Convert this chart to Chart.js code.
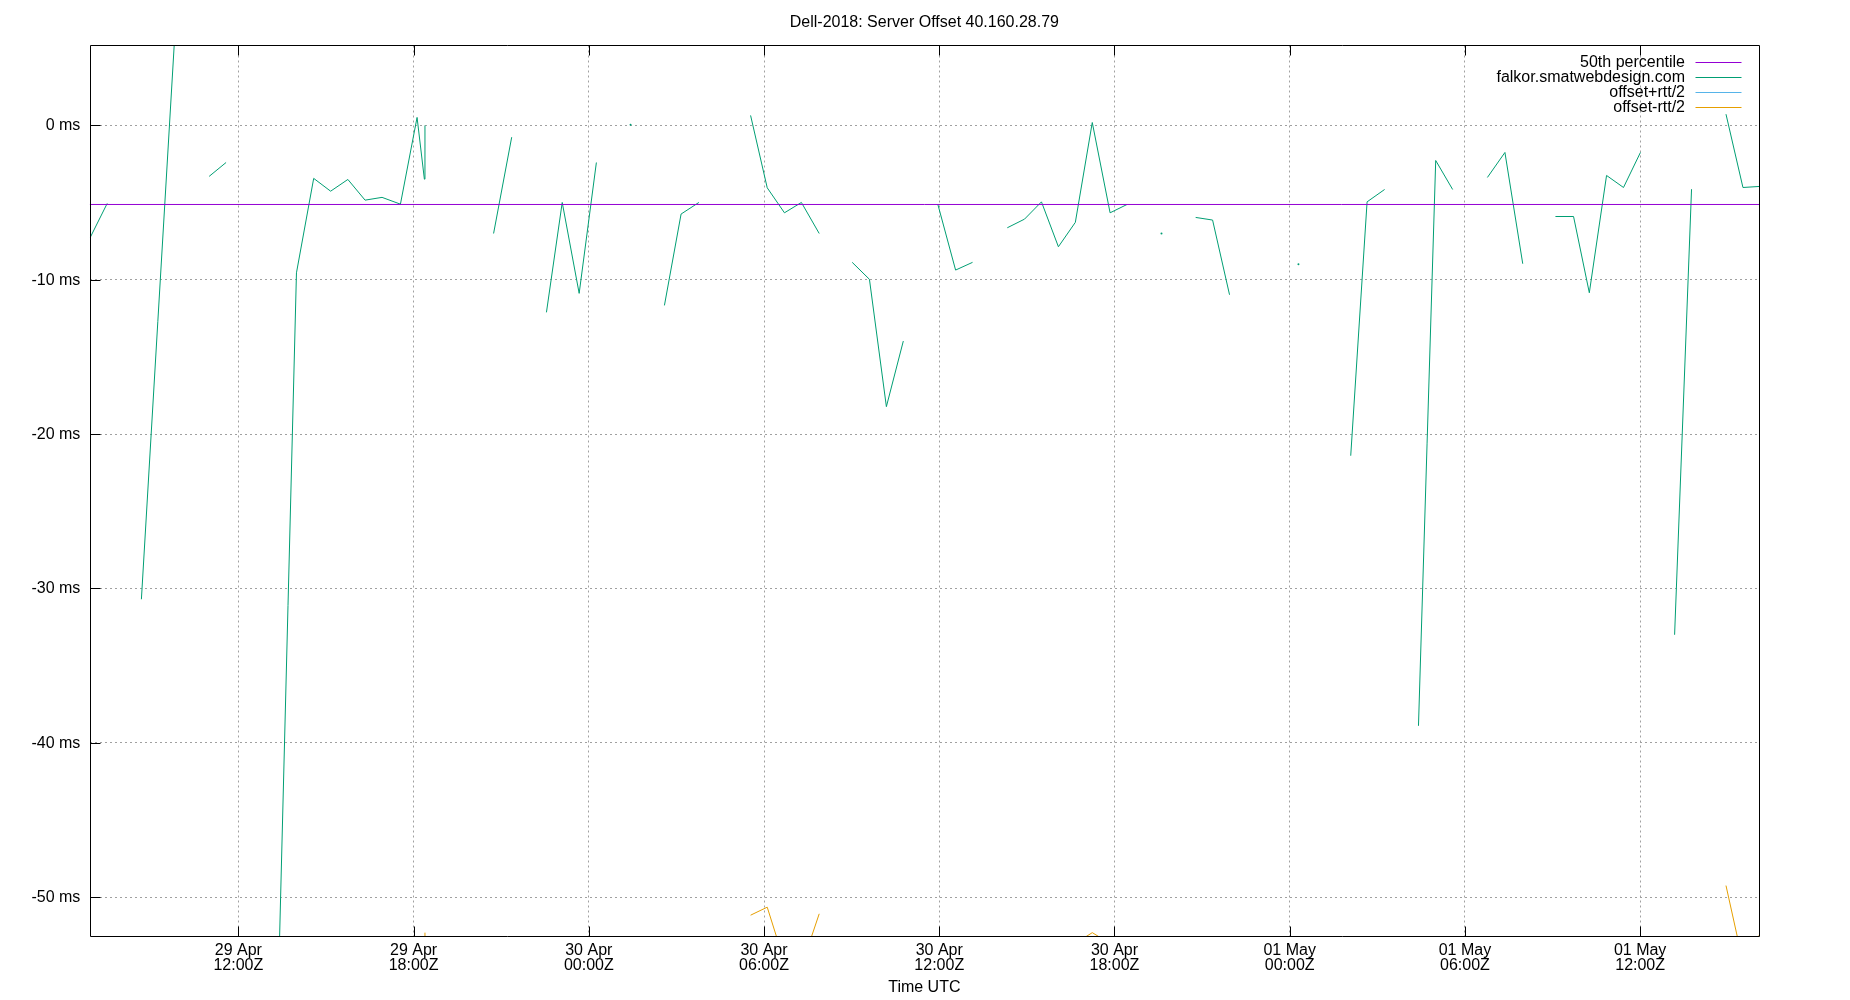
<!DOCTYPE html>
<html>
<head>
  <title>Dell-2018: Server Offset 40.160.28.79</title>
  <script src="https://cdn.jsdelivr.net/npm/chart.js"></script>
  <style>
    body { margin: 0; padding: 0; background: #fff; }
    .chart-container { width: 1850px; height: 1000px; position: relative; }
  </style>
</head>
<body>
  <div class="chart-container"><canvas id="offsetChart"></canvas></div>
  <script>
    // --- DATA (x = hours since 29 Apr 00:00Z, y = offset in ms, null = no sample) ---
    const sampleHours = [
      6.93, 7.51, 8.10, 8.68, 9.86, 10.42, 11.00, 11.58, 12.20, 13.40,
      13.99, 14.58, 15.16, 15.75, 16.34, 16.92, 17.55, 18.12, 18.37, 18.39,
      19.50, 20.74, 21.36, 21.90, 22.55, 23.09, 23.67, 24.26, 24.85, 25.43,
      26.00, 26.59, 27.16, 27.77, 28.60, 29.54, 30.11, 30.70, 31.28, 31.89,
      32.40, 33.02, 33.61, 34.19, 34.77, 35.40, 35.95, 36.56, 37.14, 37.70,
      38.33, 38.92, 39.50, 40.08, 40.66, 41.24, 41.85, 42.43, 43.00, 43.61,
      44.20, 44.78, 45.36, 45.94, 47.00, 48.30, 49.20, 50.09, 50.65, 51.25,
      51.80, 52.41, 53.00, 53.58, 54.20, 54.77, 55.37, 55.98, 56.50, 57.10,
      57.72, 58.26, 58.85, 59.43, 60.01, 60.60, 61.18, 61.76, 62.30, 62.94,
      63.52, 64.10
    ];
    const offsetMs = [
      -7.25, -5.05, null, -30.7, 7.0, null, -3.30, -2.40, null, -53.5,
      -9.55, -3.43, -4.26, -3.50, -4.84, -4.66, -5.10, 0.52, -3.48, 0.0,
      null, -7.0, -0.76, null, -12.11, -4.99, -10.88, -2.40, null, 0.05,
      null, -11.66, -5.74, -4.99, null, 0.65, -4.04, -5.66, -4.99, -7.0,
      null, -8.87, -9.97, -18.22, -13.97, null, -5.10, -9.37, -8.87, null,
      -6.63, -6.07, -4.95, -7.86, -6.28, 0.19, -5.66, -5.12, null, -7.0,
      null, -5.96, -6.13, -10.97, null, -9.0, null, -21.40, -4.95, -4.15,
      null, -38.9, -2.27, -4.15, null, -3.37, -1.75, -8.96, null, -5.90,
      -5.90, -10.84, -3.24, -4.02, -1.75, null, -33.0, -4.13, null, 0.73,
      -4.02, -3.95
    ];
    // offset-rtt/2: only the stretches that reach into the visible range
    const lowHours = [18.37, 18.39, 19.00, 29.54, 30.11, 30.70, 31.28, 31.89, 32.40,
                      40.66, 41.24, 41.85, 42.40, 62.94, 63.52, 64.10];
    const lowMs    = [-53.0, -52.3, null, -51.17, -50.65, -54.2, -54.5, -51.08, null,
                      -53.0, -52.3, -53.0, null, -49.25, -54.2, -52.4];
    // offset+rtt/2 never enters the visible range
    const highHours = [];
    const highMs = [];
    const medianMs = -5.12;

    const titleText = 'Dell-2018: Server Offset 40.160.28.79';
    const xRange = [6.91, 64.07];
    const yRange = [-52.55, 5.18];
    const xTickHours = [12, 18, 24, 30, 36, 42, 48, 54, 60];
    const xTickLabels = [
      ['29 Apr', '12:00Z'], ['29 Apr', '18:00Z'], ['30 Apr', '00:00Z'],
      ['30 Apr', '06:00Z'], ['30 Apr', '12:00Z'], ['30 Apr', '18:00Z'],
      ['01 May', '00:00Z'], ['01 May', '06:00Z'], ['01 May', '12:00Z']
    ];
    const yTickValues = [-50, -40, -30, -20, -10, 0];

    const FONT = '"Liberation Sans", Arial, sans-serif';
    const toPoints = (xs, ys) => xs.map((h, i) => ({ x: h, y: ys[i] }));

    // show a dot only for samples with no neighbour on either side
    function isolatedRadius(c) {
      const d = c.dataset.data, i = c.dataIndex;
      if (!d[i] || d[i].y === null) return 0;
      const prev = d[i - 1], next = d[i + 1];
      return (!prev || prev.y === null) && (!next || next.y === null) ? 1 : 0;
    }

    // gnuplot style: title over the plot, frame, inward tick marks, key top right
    const gnuplotFrame = {
      id: 'gnuplotFrame',
      afterDatasetsDraw(chart) {
        const { ctx, chartArea: a, scales: { x, y } } = chart;
        const L = Math.round(a.left) + 0.5, R = Math.round(a.right) + 0.5;
        const T = Math.floor(a.top) + 0.5, B = Math.floor(a.bottom) + 0.5;
        ctx.save();
        ctx.strokeStyle = '#000';
        ctx.lineWidth = 1;
        ctx.beginPath();
        ctx.rect(L, T, R - L, B - T);
        x.ticks.forEach(t => {
          const px = Math.round(x.getPixelForValue(t.value)) + 0.5;
          ctx.moveTo(px, B); ctx.lineTo(px, B - 10);
          ctx.moveTo(px, T); ctx.lineTo(px, T + 10);
        });
        y.ticks.forEach(t => {
          const py = Math.round(y.getPixelForValue(t.value)) + 0.5;
          ctx.moveTo(L, py); ctx.lineTo(L + 10, py);
        });
        ctx.stroke();

        ctx.font = '16px ' + FONT;
        ctx.fillStyle = '#000';
        ctx.textBaseline = 'middle';

        // title, centred on the plot
        ctx.textAlign = 'center';
        ctx.fillText(titleText, (a.left + a.right) / 2, 22.8);

        // key
        ctx.textAlign = 'right';
        chart.data.datasets.forEach((ds, i) => {
          const ty = a.top + 17.3 + i * 15;
          ctx.fillText(ds.label, a.right - 74, ty);
          ctx.beginPath();
          ctx.strokeStyle = ds.borderColor;
          const ly = Math.floor(ty) + 0.5;
          ctx.moveTo(a.right - 63.5, ly);
          ctx.lineTo(a.right - 17.5, ly);
          ctx.stroke();
        });
        ctx.restore();
      }
    };

    const ctx = document.getElementById('offsetChart').getContext('2d');
    new Chart(ctx, {
      type: 'line',
      data: {
        datasets: [
          {
            label: '50th percentile',
            data: xRange.map(h => ({ x: h, y: medianMs })),
            borderColor: '#9400d3',
            borderWidth: 1,
            pointRadius: 0
          },
          {
            label: 'falkor.smatwebdesign.com',
            data: toPoints(sampleHours, offsetMs),
            borderColor: '#009e73',
            backgroundColor: '#009e73',
            borderWidth: 1,
            pointRadius: isolatedRadius,
            pointBorderWidth: 0
          },
          {
            label: 'offset+rtt/2',
            data: toPoints(highHours, highMs),
            borderColor: '#56b4e9',
            borderWidth: 1,
            pointRadius: 0
          },
          {
            label: 'offset-rtt/2',
            data: toPoints(lowHours, lowMs),
            borderColor: '#e69f00',
            borderWidth: 1,
            pointRadius: 0
          }
        ]
      },
      options: {
        animation: false,
        responsive: true,
        maintainAspectRatio: false,
        events: [],
        spanGaps: false,
        layout: { padding: { left: 0, right: 91, top: 45.5, bottom: 0 } },
        plugins: {
          legend: { display: false },
          tooltip: { enabled: false },
          title: { display: false }
        },
        scales: {
          x: {
            type: 'linear',
            min: xRange[0],
            max: xRange[1],
            afterBuildTicks: s => { s.ticks = xTickHours.map(v => ({ value: v })); },
            afterFit: s => { s.height = 63.5; },
            ticks: {
              autoSkip: false,
              maxRotation: 0,
              padding: 6.1,
              color: '#000',
              font: { family: FONT, size: 16, lineHeight: 0.9375 },
              callback: (v, i) => xTickLabels[i]
            },
            grid: { color: '#a0a0a0', lineWidth: 1, drawTicks: false },
            border: { display: false, dash: [2, 3] },
            title: {
              display: true,
              text: 'Time UTC',
              color: '#000',
              font: { family: FONT, size: 16, lineHeight: 1.2 },
              padding: { top: 4, bottom: 2.6 }
            }
          },
          y: {
            type: 'linear',
            min: yRange[0],
            max: yRange[1],
            afterBuildTicks: s => { s.ticks = yTickValues.map(v => ({ value: v })); },
            afterFit: s => { s.width = 89.7; },
            ticks: {
              padding: 9.4,
              labelOffset: 0.5,
              color: '#000',
              font: { family: FONT, size: 16 },
              callback: v => v + ' ms'
            },
            grid: { color: '#a0a0a0', lineWidth: 1, drawTicks: false },
            border: { display: false, dash: [2, 3] }
          }
        }
      },
      plugins: [gnuplotFrame]
    });
  </script>
</body>
</html>
